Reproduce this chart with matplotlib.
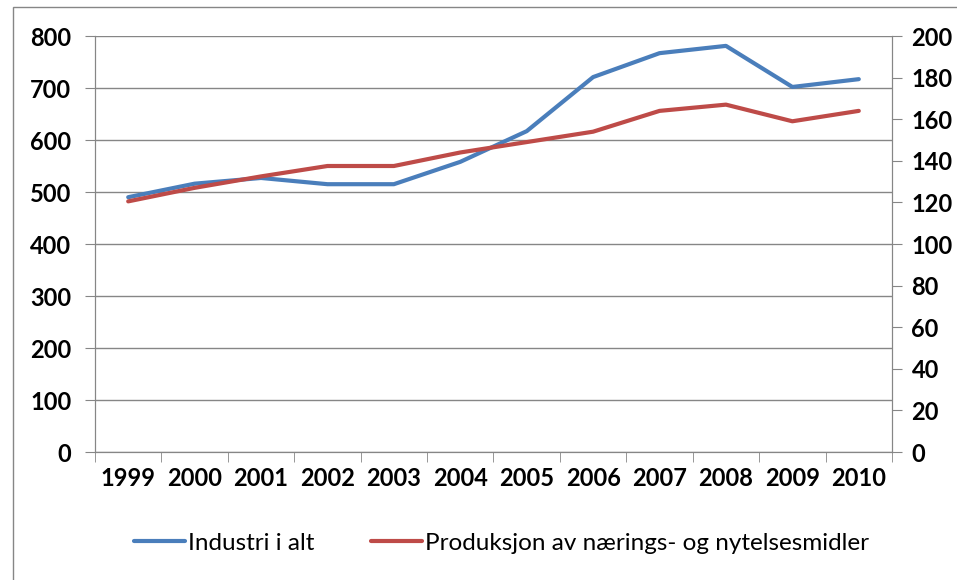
import matplotlib
matplotlib.use("Agg")
import matplotlib.pyplot as plt
from matplotlib.patches import Rectangle

years = ["1999", "2000", "2001", "2002", "2003", "2004", "2005", "2006",
         "2007", "2008", "2009", "2010"]
industri = [490, 516, 527, 515, 515, 558, 617, 721, 767, 781, 702, 717]
produksjon = [120.5, 127, 132.5, 137.5, 137.5, 144, 149, 154, 164, 167, 159, 164]

label_a = "Industri i alt"
label_b = "Produksjon av nærings- og nytelsesmidler"

plt.rcParams['font.family'] = ['Lato', 'DejaVu Sans']
grey = "#868686"

fig = plt.figure(figsize=(9.57, 5.8), dpi=100)
ax = fig.add_axes([95 / 957, 1 - 452 / 580, (892 - 95) / 957, (452 - 36) / 580])
ax2 = ax.twinx()

x = list(range(len(years)))
l1, = ax.plot(x, industri, color="#4A7EBB", lw=3, solid_capstyle="round", label=label_a)
l2, = ax2.plot(x, produksjon, color="#BE4B48", lw=3, solid_capstyle="round", label=label_b)

ax.set_xlim(-0.5, len(years) - 0.5)
ax.set_ylim(0, 800)
ax2.set_ylim(0, 200)
ax.set_yticks(range(0, 801, 100))
ax2.set_yticks(range(0, 201, 20))
ax.yaxis.grid(True, color=grey, lw=1)
ax.set_axisbelow(True)

ax.set_xticks(x)
ax.set_xticklabels(years)
ax.set_xticks([i - 0.5 for i in range(len(years) + 1)], minor=True)
ax.tick_params(axis="x", which="major", length=0, pad=11, labelsize=17)
ax.tick_params(axis="x", which="minor", length=7, color=grey, direction="out")
ax.tick_params(axis="y", length=7, color=grey, labelsize=17, pad=10)
ax2.tick_params(axis="y", length=7, color=grey, labelsize=17, pad=7)
for lab in ax.get_xticklabels() + ax.get_yticklabels() + ax2.get_yticklabels():
    lab.set_fontweight("bold")

for a in (ax, ax2):
    for s in a.spines.values():
        s.set_color(grey)
    a.spines["top"].set_visible(False)

fig.legend(handles=[l1, l2], loc="center", bbox_to_anchor=(0.524, 1 - 543 / 580),
           ncol=2, frameon=False, prop={"size": 17.5},
           handlelength=2.1, handletextpad=0.15, columnspacing=2.3)

fig.patches.append(Rectangle((13 / 957, -0.1), 1.0, 1 - 7 / 580 + 0.1,
                             transform=fig.transFigure, fill=False,
                             edgecolor=grey, lw=1))

fig.savefig("out.png", dpi=100)
